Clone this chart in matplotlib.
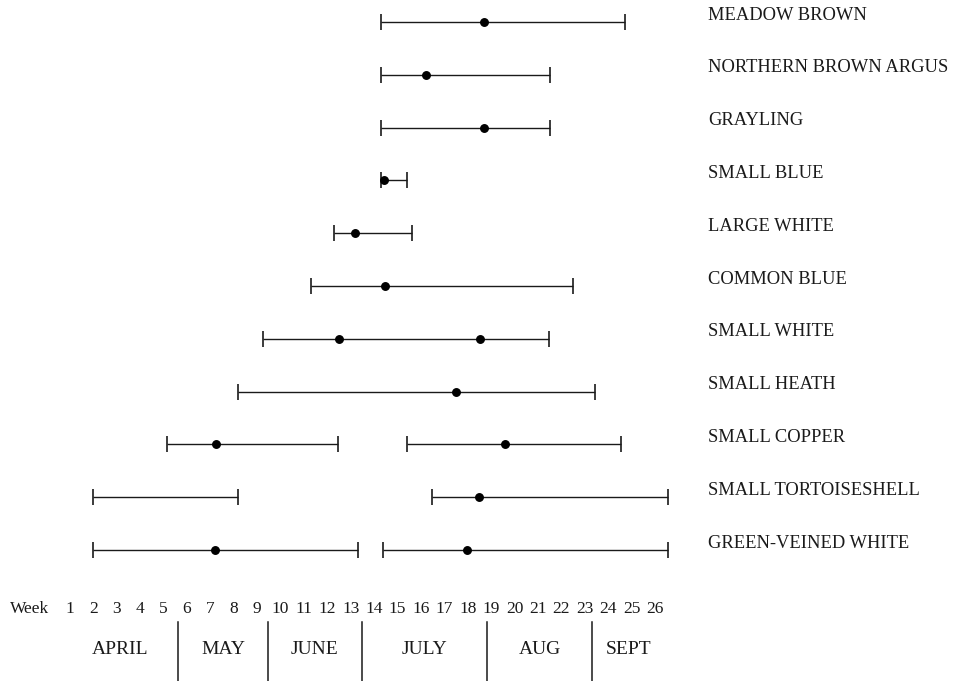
import matplotlib
matplotlib.use("Agg")
import matplotlib.pyplot as plt

species = ["MEADOW BROWN", "NORTHERN BROWN ARGUS", "GRAYLING", "SMALL BLUE",
           "LARGE WHITE", "COMMON BLUE", "SMALL WHITE", "SMALL HEATH",
           "SMALL COPPER", "SMALL TORTOISESHELL", "GREEN-VEINED WHITE"]

# flight-period segments (row index, start week, end week)
seg_row = [0, 1, 2, 3, 4, 5, 6, 7, 8, 8, 9, 9, 10, 10]
seg_start = [14.29, 14.29, 14.29, 14.29, 12.28, 11.30, 9.25, 8.18,
             5.15, 15.40, 1.98, 16.47, 1.98, 14.38]
seg_end = [24.72, 21.51, 21.51, 15.40, 15.62, 22.50, 21.47, 23.44,
           12.45, 24.55, 8.18, 26.56, 13.31, 26.56]

# peak weeks (row index, week)
peak_row = [0, 1, 2, 3, 4, 5, 6, 6, 7, 8, 8, 9, 10, 10]
peak_week = [18.69, 16.21, 18.69, 14.40, 13.18, 14.46, 12.50, 18.52,
             17.50, 7.24, 19.59, 18.48, 7.20, 17.97]

weeks = list(range(1, 27))
months = ["APRIL", "MAY", "JUNE", "JULY", "AUG", "SEPT"]
month_edges = [0.65, 5.62, 9.46, 13.48, 18.82, 23.31, 26.4]

plt.rcParams['font.family'] = ['Liberation Serif', 'DejaVu Serif']

fig = plt.figure(figsize=(9.65, 6.81), dpi=100)
ax = fig.add_axes([0, 0, 1, 1])
ax.set_xlim(1 - 70 / 23.4, 1 + 895 / 23.4)
ax.set_ylim(12.48, -0.4167)
ax.axis('off')

col = '#1a1a1a'
for r, s, e in zip(seg_row, seg_start, seg_end):
    ax.plot([s, e], [r, r], color=col, lw=1.0, solid_capstyle='butt')
    ax.plot([s, e], [r, r], linestyle='none', marker='|', markersize=11,
            markeredgewidth=1.2, color=col)

ax.plot(peak_week, peak_row, linestyle='none', marker='o', markersize=5.4,
        color='black')

for i, name in enumerate(species):
    ax.text(28.26, i - 0.13, name, ha='left', va='center', fontsize=13.3,
            color=col)

week_y = 11.117
ax.text(0.1, week_y, "Week", ha='right', va='center', fontsize=12.5, color=col)
for w in weeks:
    ax.text(w, week_y, str(w), ha='center', va='center', fontsize=12.5, color=col)

for i, m in enumerate(months):
    xc = (month_edges[i] + month_edges[i + 1]) / 2
    ax.text(xc, 11.89, m, ha='center', va='center', fontsize=14, color=col)
for edge in month_edges[1:-1]:
    ax.plot([edge, edge], [11.36, 12.48], color=col, lw=1.1)

fig.savefig("out.png", dpi=100)
